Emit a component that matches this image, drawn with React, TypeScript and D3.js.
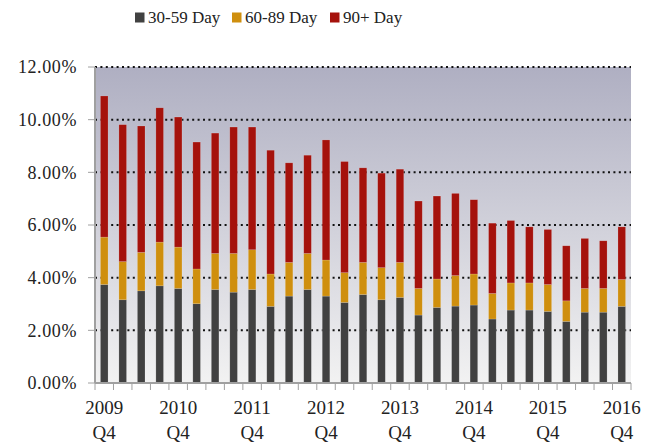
import React from "react";
import * as d3 from "d3";

const quarters: string[] = [];
for (let y = 2009; y <= 2016; y++) {
  for (let q = 1; q <= 4; q++) {
    if (y === 2009 && q < 4) continue;
    quarters.push(`${y} Q${q}`);
  }
}

const seriesNames = ["30-59 Day", "60-89 Day", "90+ Day"];
const seriesColors = ["#414141", "#cf8f0e", "#a5120c"];

const d30 = [3.74, 3.16, 3.5, 3.69, 3.59, 3.01, 3.55, 3.45, 3.55, 2.91, 3.3, 3.55, 3.3, 3.06, 3.36, 3.16, 3.25, 2.58, 2.87, 2.92, 2.96, 2.43, 2.77, 2.77, 2.72, 2.34, 2.69, 2.69, 2.91];
const d60 = [1.8, 1.45, 1.46, 1.66, 1.57, 1.32, 1.37, 1.47, 1.51, 1.23, 1.28, 1.37, 1.37, 1.13, 1.22, 1.22, 1.33, 1.01, 1.08, 1.16, 1.18, 0.97, 1.03, 1.03, 1.02, 0.78, 0.9, 0.9, 1.02];
const d90 = [5.36, 5.2, 4.8, 5.1, 4.94, 4.82, 4.57, 4.8, 4.66, 4.7, 3.78, 3.73, 4.56, 4.22, 3.59, 3.59, 3.54, 3.32, 3.15, 3.12, 2.82, 2.67, 2.37, 2.13, 2.09, 2.09, 1.9, 1.81, 2.0];

const yTicks = [0, 2, 4, 6, 8, 10, 12];

const W = 656;
const H = 446;
const M = { left: 95, right: 25, top: 67, bottom: 63 };

export default function App() {
  const x = d3
    .scaleBand<string>()
    .domain(quarters)
    .range([M.left, W - M.right])
    .paddingInner(0.59)
    .paddingOuter(0.295);
  const y = d3.scaleLinear().domain([0, 12]).range([H - M.bottom, M.top]);

  const rows = quarters.map((q, i) => ({ q, a: d30[i], b: d60[i], c: d90[i] }));
  const stack = d3.stack<any>().keys(["a", "b", "c"])(rows);

  const step = x.step();
  const boundaries = d3.range(quarters.length + 1).map((i) => M.left + i * step);
  const fontStyle = { fontFamily: '"Liberation Serif", "DejaVu Serif", "Times New Roman", serif' };

  const legendX = [135, 232, 330];

  return (
    <svg width={W} height={H} style={{ position: "absolute", left: 0, top: 0 }}>
      <defs>
        <linearGradient id="bg" x1="0" y1="0" x2="0" y2="1">
          <stop offset="0" stopColor="#afafc2" />
          <stop offset="1" stopColor="#f2f2f2" />
        </linearGradient>
      </defs>
      <rect width={W} height={H} fill="#ffffff" />
      <rect
        x={M.left}
        y={M.top}
        width={W - M.left - M.right}
        height={H - M.top - M.bottom}
        fill="url(#bg)"
      />
      {yTicks
        .filter((t) => t > 0)
        .map((t) => (
          <line
            key={t}
            x1={M.left}
            x2={W - M.right}
            y1={y(t)}
            y2={y(t)}
            stroke="#111"
            strokeWidth={2}
            strokeDasharray="2 3.4"
          />
        ))}
      {stack.map((layer, si) => (
        <g key={si}>
          {layer.map((d, i) => (
            <rect
              key={i}
              x={x(quarters[i])}
              width={x.bandwidth()}
              y={y(d[1])}
              height={y(d[0]) - y(d[1])}
              fill={seriesColors[si]}
              stroke="rgba(255,255,255,0.25)"
              strokeWidth={0.6}
            />
          ))}
        </g>
      ))}
      <line x1={M.left} x2={M.left} y1={M.top} y2={H - M.bottom} stroke="#a0a0a0" strokeWidth={2} />
      {yTicks.map((t) => (
        <g key={t}>
          <line x1={M.left - 7} x2={M.left} y1={y(t)} y2={y(t)} stroke="#a0a0a0" strokeWidth={1} />
          <text
            x={M.left - 18}
            y={y(t)}
            dy="0.35em"
            textAnchor="end"
            style={fontStyle}
            fontSize={18}
            letterSpacing={0.6}
            fill="#222"
          >
            {d3.format(".2f")(t) + "%"}
          </text>
        </g>
      ))}
      <line x1={M.left} x2={W - M.right} y1={H - M.bottom} y2={H - M.bottom} stroke="#a0a0a0" strokeWidth={2} />
      {boundaries.map((bx, i) => (
        <line key={i} x1={bx} x2={bx} y1={H - M.bottom} y2={H - M.bottom + 7} stroke="#a0a0a0" strokeWidth={1} />
      ))}
      {quarters.map((q, i) =>
        i % 4 === 0 ? (
          <g key={q}>
            <text
              x={(x(q) as number) + x.bandwidth() / 2}
              y={414}
              textAnchor="middle"
              style={fontStyle}
              fontSize={19}
              fill="#222"
            >
              {q.split(" ")[0]}
            </text>
            <text
              x={(x(q) as number) + x.bandwidth() / 2}
              y={439}
              textAnchor="middle"
              style={fontStyle}
              fontSize={19}
              fill="#222"
            >
              {q.split(" ")[1]}
            </text>
          </g>
        ) : null
      )}
      {seriesNames.map((n, i) => (
        <g key={n}>
          <rect x={legendX[i]} y={12.5} width={9.5} height={10} fill={seriesColors[i]} />
          <text x={legendX[i] + 13} y={23} style={fontStyle} fontSize={17} fill="#222">
            {n}
          </text>
        </g>
      ))}
    </svg>
  );
}
